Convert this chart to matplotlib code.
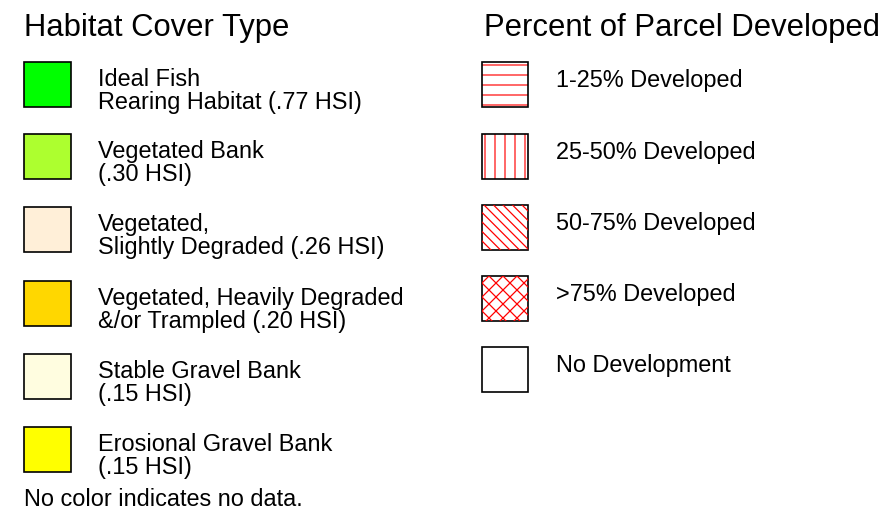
import matplotlib
matplotlib.use("Agg")
import matplotlib.pyplot as plt
from matplotlib.patches import Rectangle
import numpy as np

plt.rcParams['font.family'] = ['Liberation Sans', 'DejaVu Sans']
plt.rcParams['hatch.linewidth'] = 0.7

# ---- data ----
habitat_title = "Habitat Cover Type"
habitat_labels = [
    ["Ideal Fish", "Rearing Habitat (.77 HSI)"],
    ["Vegetated Bank", "(.30 HSI)"],
    ["Vegetated,", "Slightly Degraded (.26 HSI)"],
    ["Vegetated, Heavily Degraded", "&/or Trampled (.20 HSI)"],
    ["Stable Gravel Bank", "(.15 HSI)"],
    ["Erosional Gravel Bank", "(.15 HSI)"],
]
habitat_colors = ["#00FF00", "#ADFF2F", "#FFEFD8", "#FFD700", "#FFFDE0", "#FFFF00"]

dev_title = "Percent of Parcel Developed"
dev_labels = ["1-25% Developed", "25-50% Developed", "50-75% Developed",
              ">75% Developed", "No Development"]
dev_hatches = ["--", "||", "diag", "cross", ""]

footnote = "No color indicates no data."

# ---- layout ----
DPI = 120
W, H = 882, 519
fig = plt.figure(figsize=(W / DPI, H / DPI), dpi=DPI)
ax = fig.add_axes([0, 0, 1, 1])
ax.set_xlim(0, W)
ax.set_ylim(H, 0)
ax.axis('off')

title_fs = 18.6
label_fs = 14.1

ax.text(24, 36, habitat_title, fontsize=title_fs, va='baseline', ha='left')
ax.text(484, 36, dev_title, fontsize=title_fs, va='baseline', ha='left')

left_tops = [62, 134, 207, 281, 354, 427]
for top, lines, col in zip(left_tops, habitat_labels, habitat_colors):
    ax.add_patch(Rectangle((24, top), 47, 45, facecolor=col, edgecolor='black', lw=1.0))
    for i, ln in enumerate(lines):
        ax.text(98, top + 24 + 23 * i, ln, fontsize=label_fs, va='baseline', ha='left')


def clipped_diagonals(r, x0, top, s, directions, offset):
    for k in range(-12, 14):
        xs = x0 + offset + k * s
        for d in directions:
            ln, = ax.plot([xs, xs + d * 80], [top, top + 80], color='red', lw=0.75)
            ln.set_clip_path(r)


right_tops = [62, 134, 205, 276, 347]
for top, lab, hat in zip(right_tops, dev_labels, dev_hatches):
    x0, w, h = 482, 46, 45
    if hat in ("cross", "diag"):
        r = Rectangle((x0, top), w, h, facecolor='white', edgecolor='none')
        ax.add_patch(r)
        if hat == "cross":
            clipped_diagonals(r, x0, top, 14, (1, -1), 7)
        else:
            clipped_diagonals(r, x0, top, 9.5, (1,), 2)
    elif hat:
        ax.add_patch(Rectangle((x0, top), w, h, facecolor='white', edgecolor='red',
                               hatch=hat, lw=0))
    else:
        ax.add_patch(Rectangle((x0, top), w, h, facecolor='white', edgecolor='none'))
    ax.add_patch(Rectangle((x0, top), w, h, facecolor='none', edgecolor='black', lw=1.0))
    ax.text(556, top + 25, lab, fontsize=label_fs, va='baseline', ha='left')

ax.text(24, 506, footnote, fontsize=label_fs, va='baseline', ha='left')

fig.savefig("out.png", dpi=DPI)
